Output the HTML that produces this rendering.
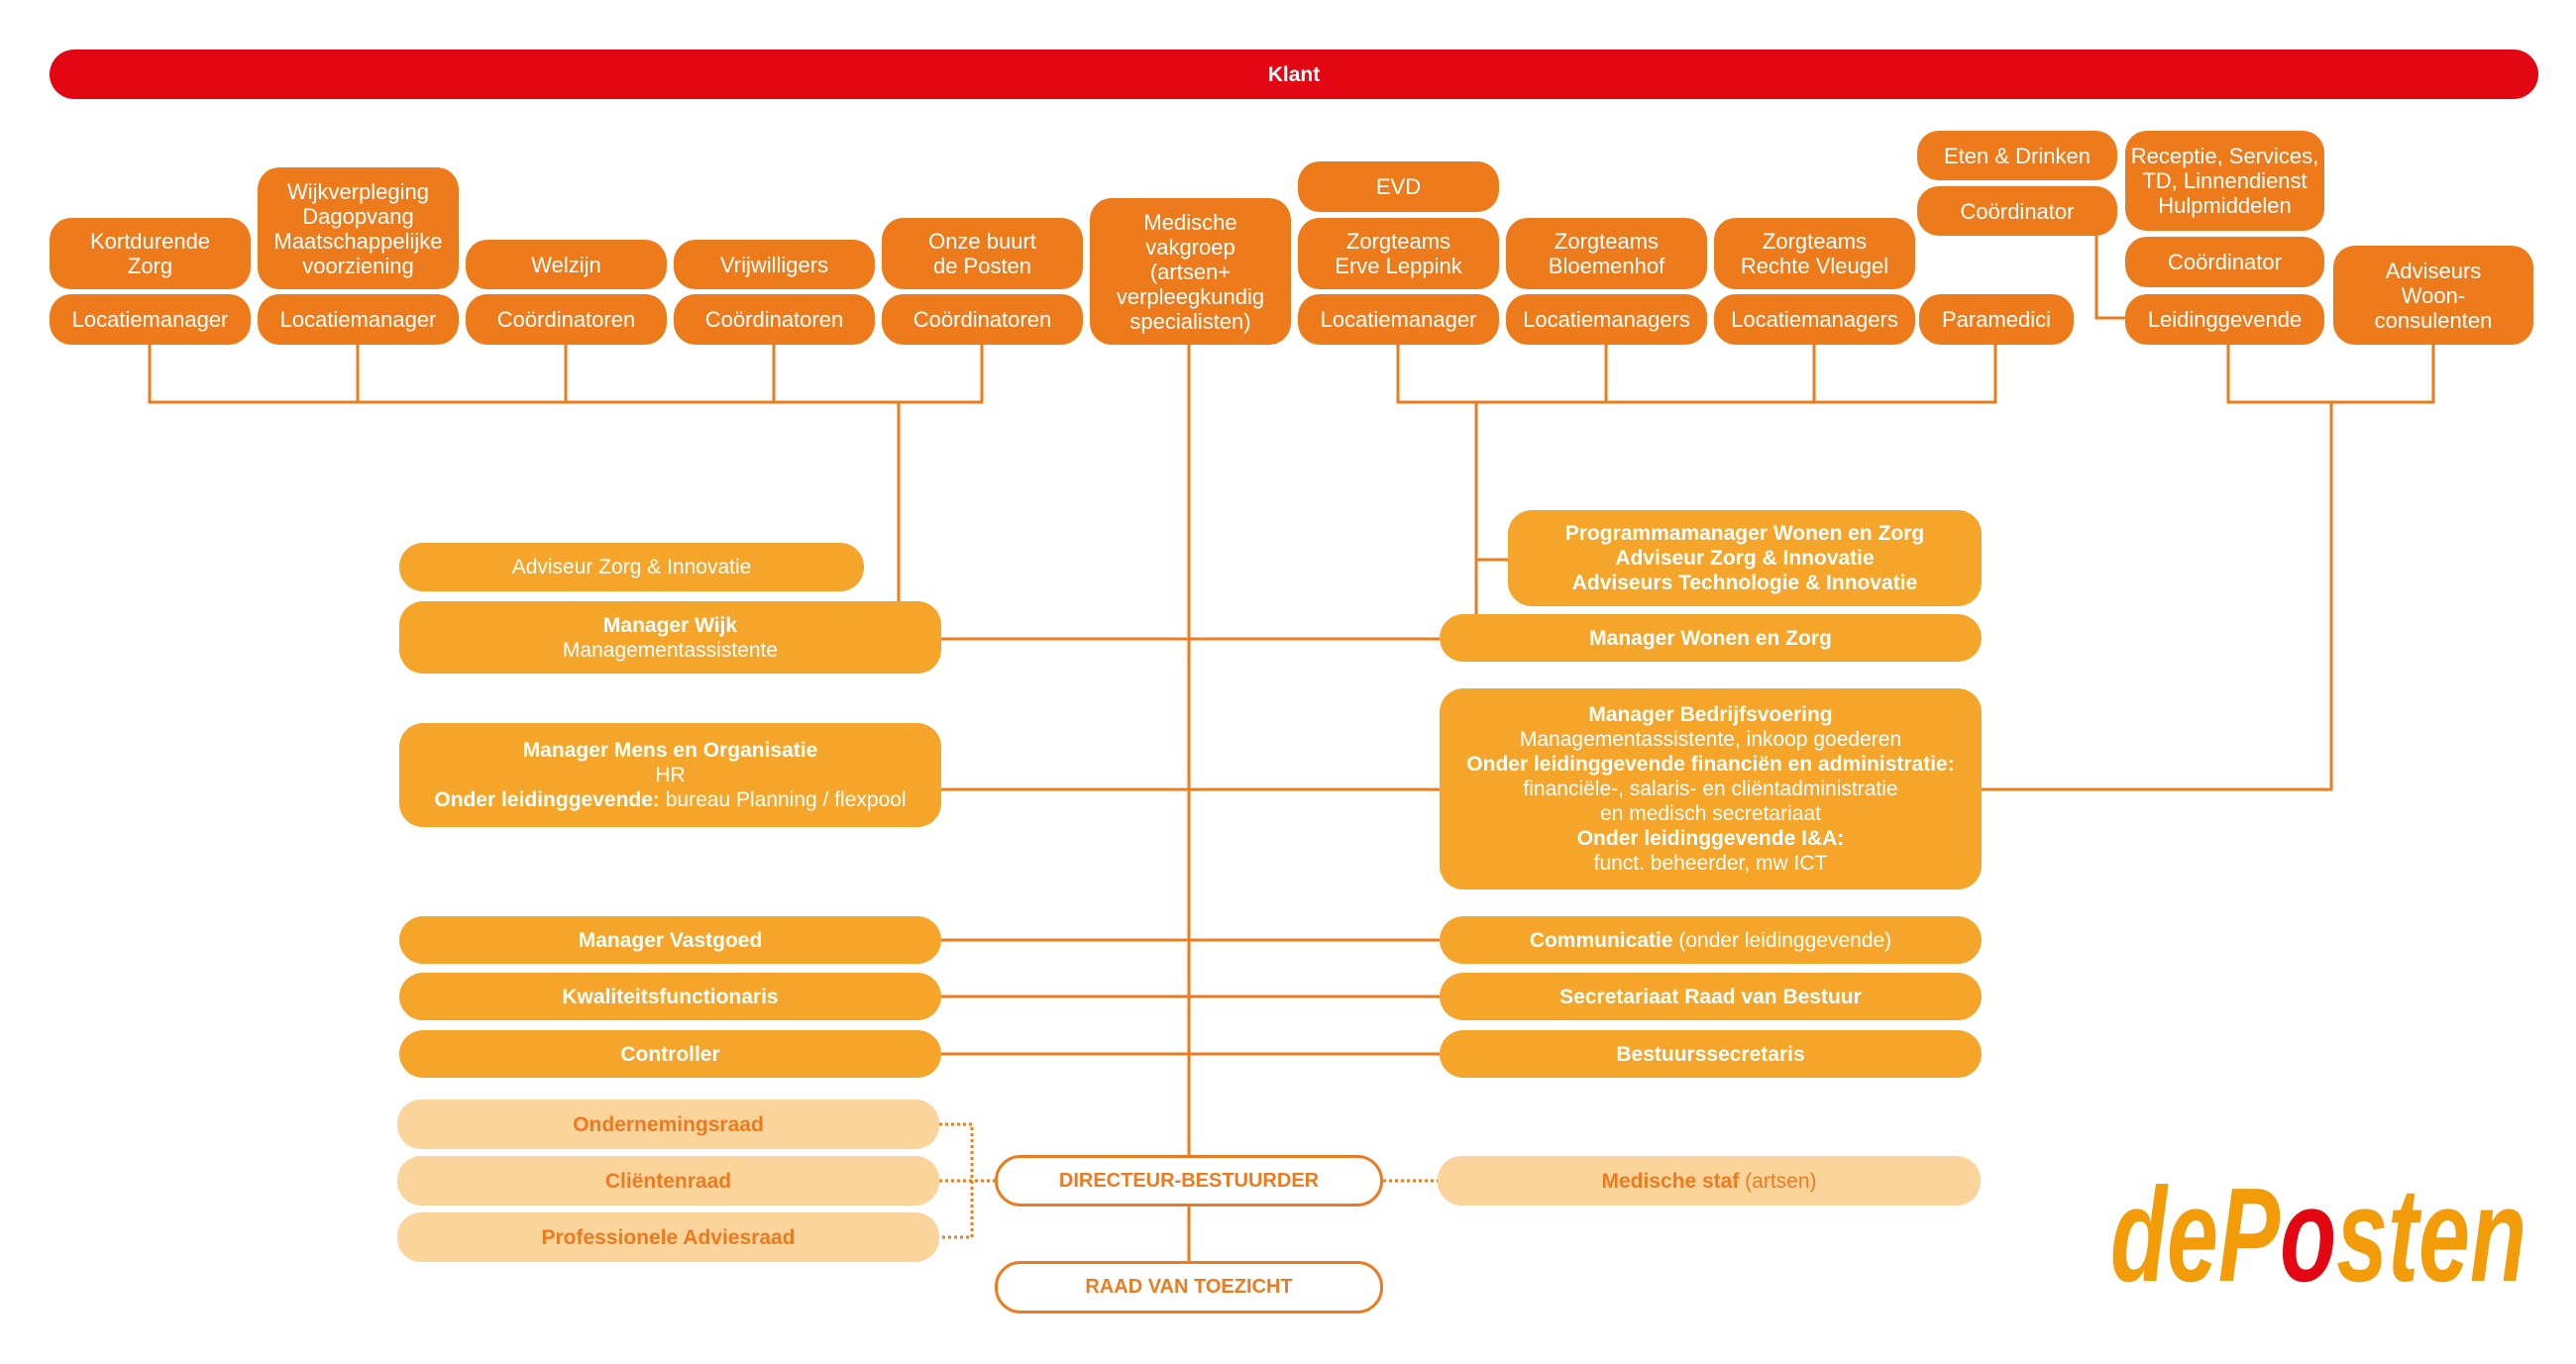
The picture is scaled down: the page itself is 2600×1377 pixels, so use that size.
<!DOCTYPE html>
<html><head><meta charset="utf-8"><style>
*{margin:0;padding:0;box-sizing:border-box}
body{width:2600px;height:1377px;background:#fff;position:relative;overflow:hidden;font-family:"Liberation Sans",sans-serif}
.b{position:absolute;display:flex;align-items:center;justify-content:center;text-align:center;color:#fff;background:#EE7B1B;border-radius:22px;font-size:22px;line-height:25px}
.m{background:#F6A52B;border-radius:24px;font-size:21px;line-height:25px}
.l{background:#FBD49C;color:#EF7A1E;font-weight:bold;border-radius:24px;font-size:21px}
.w{background:#fff;color:#EF7A1E;font-weight:bold;border:3px solid #EF7A1E;border-radius:26px;font-size:20px}
svg{position:absolute;left:0;top:0}
</style></head><body>
<svg width="2600" height="1377">
<g stroke="#EE7B1B" stroke-width="3" fill="none">
<path d="M151 348V406H991V348M361 348V406M571 348V406M781 348V406M907 406V607"/>
<path d="M1411 348V406H2014V348M1621 348V406M1831 348V406M1490 406V620"/>
<path d="M1490 565H1522"/>
<path d="M2249 348V406H2456V348M2353 406V797H2000"/>
<path d="M2116 238V321H2145"/>
<path d="M1200 347V1166M1200 1218V1273"/>
<path d="M950 645H1453M950 797H1453M950 949H1453M950 1006H1453M950 1064H1453"/>
</g>
<g stroke="#EE7B1B" stroke-width="3" fill="none" stroke-dasharray="3,3">
<path d="M948 1135H981V1249H948M948 1192H1004M1396 1192H1451"/>
</g>
<text x="2130" y="1293" font-family="Liberation Sans" font-style="italic" font-weight="bold" font-size="135" fill="#F39C0A" textLength="420" lengthAdjust="spacingAndGlyphs">de<tspan fill="#F39C0A">P</tspan><tspan fill="#E30613">o</tspan>sten</text>
</svg>
<div class="b" style="left:50px;top:50px;width:2512px;height:50px;background:#E30613;border-radius:25px;font-weight:bold;font-size:21px">Klant</div>

<div class="b" style="left:50px;top:220px;width:203px;height:72px">Kortdurende<br>Zorg</div>
<div class="b" style="left:260px;top:169px;width:203px;height:123px">Wijkverpleging<br>Dagopvang<br>Maatschappelijke<br>voorziening</div>
<div class="b" style="left:470px;top:242px;width:203px;height:50px">Welzijn</div>
<div class="b" style="left:680px;top:242px;width:203px;height:50px">Vrijwilligers</div>
<div class="b" style="left:890px;top:220px;width:203px;height:72px">Onze buurt<br>de Posten</div>
<div class="b" style="left:50px;top:297px;width:203px;height:51px">Locatiemanager</div>
<div class="b" style="left:260px;top:297px;width:203px;height:51px">Locatiemanager</div>
<div class="b" style="left:470px;top:297px;width:203px;height:51px">Coördinatoren</div>
<div class="b" style="left:680px;top:297px;width:203px;height:51px">Coördinatoren</div>
<div class="b" style="left:890px;top:297px;width:203px;height:51px">Coördinatoren</div>

<div class="b" style="left:1100px;top:200px;width:203px;height:148px">Medische<br>vakgroep<br>(artsen+<br>verpleegkundig<br>specialisten)</div>
<div class="b" style="left:1310px;top:163px;width:203px;height:51px">EVD</div>
<div class="b" style="left:1310px;top:220px;width:203px;height:72px">Zorgteams<br>Erve Leppink</div>
<div class="b" style="left:1520px;top:220px;width:203px;height:72px">Zorgteams<br>Bloemenhof</div>
<div class="b" style="left:1730px;top:220px;width:203px;height:72px">Zorgteams<br>Rechte Vleugel</div>
<div class="b" style="left:1310px;top:297px;width:203px;height:51px">Locatiemanager</div>
<div class="b" style="left:1520px;top:297px;width:203px;height:51px">Locatiemanagers</div>
<div class="b" style="left:1730px;top:297px;width:203px;height:51px">Locatiemanagers</div>
<div class="b" style="left:1937px;top:297px;width:156px;height:51px">Paramedici</div>
<div class="b" style="left:1935px;top:132px;width:202px;height:50px">Eten &amp; Drinken</div>
<div class="b" style="left:1935px;top:188px;width:202px;height:50px">Coördinator</div>
<div class="b" style="left:2145px;top:132px;width:201px;height:101px">Receptie, Services,<br>TD, Linnendienst<br>Hulpmiddelen</div>
<div class="b" style="left:2145px;top:239px;width:201px;height:51px">Coördinator</div>
<div class="b" style="left:2145px;top:297px;width:201px;height:51px">Leidinggevende</div>
<div class="b" style="left:2355px;top:248px;width:202px;height:100px">Adviseurs<br>Woon-<br>consulenten</div>

<div class="b m" style="left:403px;top:548px;width:469px;height:49px">Adviseur Zorg &amp; Innovatie</div>
<div class="b m" style="left:403px;top:607px;width:547px;height:73px"><div><b>Manager Wijk</b><br>Managementassistente</div></div>
<div class="b m" style="left:1522px;top:515px;width:478px;height:97px;font-weight:bold">Programmamanager Wonen en Zorg<br>Adviseur Zorg &amp; Innovatie<br>Adviseurs Technologie &amp; Innovatie</div>
<div class="b m" style="left:1453px;top:620px;width:547px;height:48px;font-weight:bold">Manager Wonen en Zorg</div>
<div class="b m" style="left:403px;top:730px;width:547px;height:105px"><div><b>Manager Mens en Organisatie</b><br>HR<br><b>Onder leidinggevende:</b> bureau Planning / flexpool</div></div>
<div class="b m" style="left:1453px;top:695px;width:547px;height:203px"><div><b>Manager Bedrijfsvoering</b><br>Managementassistente, inkoop goederen<br><b>Onder leidinggevende financiën en administratie:</b><br>financiële-, salaris- en cliëntadministratie<br>en medisch secretariaat<br><b>Onder leidinggevende I&amp;A:</b><br>funct. beheerder, mw ICT</div></div>
<div class="b m" style="left:403px;top:925px;width:547px;height:48px;font-weight:bold">Manager Vastgoed</div>
<div class="b m" style="left:1453px;top:925px;width:547px;height:48px"><div><b>Communicatie</b> (onder leidinggevende)</div></div>
<div class="b m" style="left:403px;top:982px;width:547px;height:48px;font-weight:bold">Kwaliteitsfunctionaris</div>
<div class="b m" style="left:1453px;top:982px;width:547px;height:48px;font-weight:bold">Secretariaat Raad van Bestuur</div>
<div class="b m" style="left:403px;top:1040px;width:547px;height:48px;font-weight:bold">Controller</div>
<div class="b m" style="left:1453px;top:1040px;width:547px;height:48px;font-weight:bold">Bestuurssecretaris</div>

<div class="b l" style="left:401px;top:1110px;width:547px;height:50px">Ondernemingsraad</div>
<div class="b l" style="left:401px;top:1167px;width:547px;height:50px">Cliëntenraad</div>
<div class="b l" style="left:401px;top:1224px;width:547px;height:50px">Professionele Adviesraad</div>
<div class="b l" style="left:1451px;top:1167px;width:548px;height:50px"><div>Medische staf <span style="font-weight:normal">(artsen)</span></div></div>
<div class="b w" style="left:1004px;top:1166px;width:392px;height:52px">DIRECTEUR-BESTUURDER</div>
<div class="b w" style="left:1004px;top:1273px;width:392px;height:53px">RAAD VAN TOEZICHT</div>
</body></html>
